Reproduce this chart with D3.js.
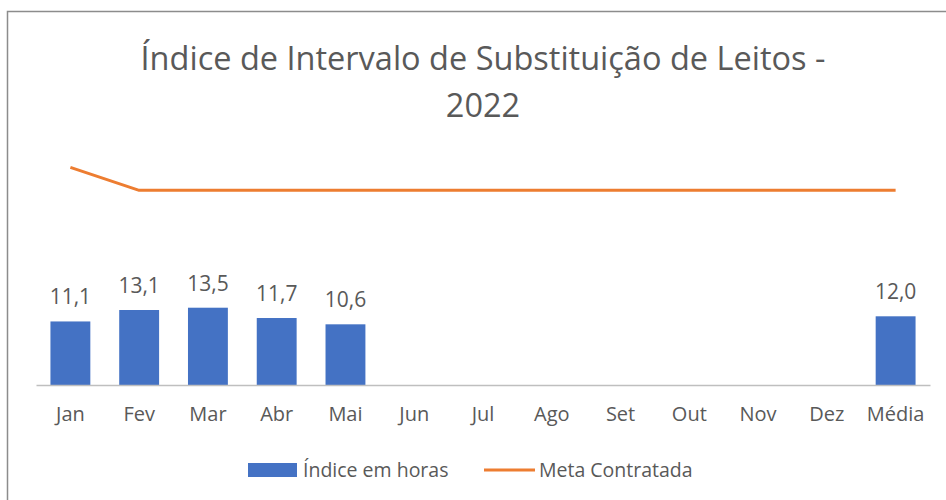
<!DOCTYPE html>
<html>
<head>
<meta charset="utf-8">
<script src="https://cdn.jsdelivr.net/npm/d3@7"></script>
<style>
  body { margin: 0; background: #fff; }
  text { font-family: "Open Sans", sans-serif; fill: #595959; }
</style>
</head>
<body>
<div id="chart"></div>
<script>
// Data
const categories = ["Jan", "Fev", "Mar", "Abr", "Mai", "Jun", "Jul", "Ago", "Set", "Out", "Nov", "Dez", "Média"];
const indiceHoras = [11.1, 13.1, 13.5, 11.7, 10.6, null, null, null, null, null, null, null, 12.0];
const metaContratada = [38, 34, 34, 34, 34, 34, 34, 34, 34, 34, 34, 34, 34];
const titleLines = ["Índice de Intervalo de Substituição de Leitos -", "2022"];
const seriesNames = ["Índice em horas", "Meta Contratada"];

const W = 946, H = 500;
const blue = "#4472c4", orange = "#ed7d31";

const svg = d3.select("#chart").append("svg")
    .attr("width", W)
    .attr("height", H);

// outer frame (left + top only visible)
svg.append("path")
    .attr("d", `M7.5,${H} L7.5,11.5 L${W},11.5`)
    .attr("fill", "none")
    .attr("stroke", "#8c8c8c")
    .attr("stroke-width", 1.5);

// Title
svg.append("text")
    .attr("x", 483).attr("y", 70)
    .attr("text-anchor", "middle")
    .style("font-size", "32.5px")
    .selectAll("tspan")
    .data(titleLines)
    .enter().append("tspan")
      .attr("x", 483)
      .attr("dy", (d, i) => i === 0 ? 0 : 47)
      .text(d => d);

// Scales
const x = d3.scaleBand()
    .domain(categories)
    .range([36, 930])
    .paddingInner(0.42)
    .paddingOuter(0.21);

const y = d3.scaleLinear()
    .domain([0, 40])
    .range([385, 156]);

// Bars
const barData = categories.map((c, i) => ({c, v: indiceHoras[i]})).filter(d => d.v != null);

svg.selectAll(".bar")
    .data(barData)
    .enter().append("rect")
      .attr("class", "bar")
      .attr("x", d => x(d.c))
      .attr("width", x.bandwidth())
      .attr("y", d => y(d.v))
      .attr("height", d => y(0) - y(d.v))
      .attr("fill", blue);

// Data labels
svg.selectAll(".lbl")
    .data(barData)
    .enter().append("text")
      .attr("class", "lbl")
      .attr("x", d => x(d.c) + x.bandwidth() / 2)
      .attr("y", d => y(d.v) - 17)
      .attr("text-anchor", "middle")
      .style("font-size", "21px")
      .text(d => d.v.toFixed(1).replace(".", ","));

// X axis
const xAxis = svg.append("g")
    .attr("transform", `translate(0,${y(0)})`)
    .call(d3.axisBottom(x).tickSize(0).tickPadding(22));
xAxis.select(".domain").attr("stroke", "#bfbfbf").attr("stroke-width", 1.3);
xAxis.selectAll("text")
    .style("font-family", "'Open Sans', sans-serif")
    .style("font-size", "20px")
    .attr("fill", "#595959");

// Meta line
const line = d3.line()
    .x((d, i) => x(categories[i]) + x.bandwidth() / 2)
    .y(d => y(d));

svg.append("path")
    .datum(metaContratada)
    .attr("d", line)
    .attr("fill", "none")
    .attr("stroke", orange)
    .attr("stroke-width", 3)
    .attr("stroke-linejoin", "round");

// Legend
const legend = svg.append("g");
legend.append("rect")
    .attr("x", 248).attr("y", 463)
    .attr("width", 49).attr("height", 14)
    .attr("fill", blue);
legend.append("text")
    .attr("x", 303).attr("y", 477)
    .style("font-size", "19.5px")
    .text(seriesNames[0]);
legend.append("line")
    .attr("x1", 484).attr("x2", 535)
    .attr("y1", 470).attr("y2", 470)
    .attr("stroke", orange)
    .attr("stroke-width", 3);
legend.append("text")
    .attr("x", 539).attr("y", 477)
    .style("font-size", "19.5px")
    .text(seriesNames[1]);
</script>
</body>
</html>
